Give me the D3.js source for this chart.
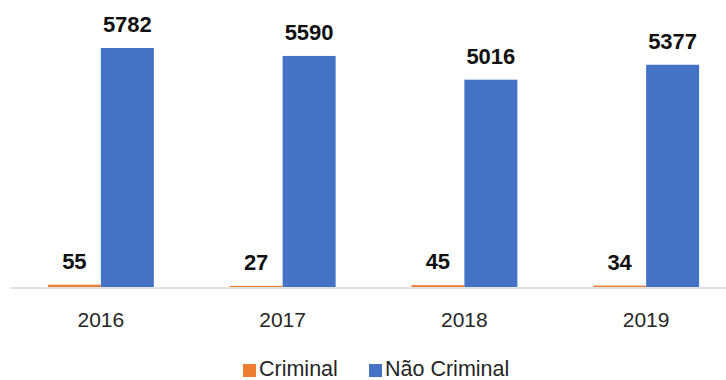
<!DOCTYPE html>
<html><head><meta charset="utf-8">
<script src="https://cdn.jsdelivr.net/npm/d3@7"></script>
<style>body{margin:0;background:#fff}svg{display:block}</style>
</head><body>
<svg id="c" width="726" height="380"></svg>
<script>
const years = ["2016","2017","2018","2019"];
const seriesNames = ["Criminal","Não Criminal"];
const criminal = [55,27,45,34];
const naoCriminal = [5782,5590,5016,5377];
const colors = ["#ED7D31","#4472C4"];

const svg = d3.select("#c");
const x = d3.scaleBand().domain(years).range([10,737]).paddingInner(0.417).paddingOuter(0.2085);
const xs = d3.scaleBand().domain(seriesNames).range([0,x.bandwidth()]).padding(0);
const y = d3.scaleLinear().domain([0,6000]).range([287,39]);

const data = years.map((yr,i)=>({year:yr, vals:[criminal[i], naoCriminal[i]]}));

// axis line
svg.append("line").attr("x1",10).attr("x2",726).attr("y1",288).attr("y2",288)
  .attr("stroke","#d9d9d9").attr("stroke-width",1.5);

const g = svg.selectAll("g.grp").data(data).enter().append("g")
  .attr("transform",d=>`translate(${x(d.year)},0)`);
g.selectAll("rect").data(d=>d.vals.map((v,k)=>({v,k}))).enter().append("rect")
  .attr("x",d=>xs(seriesNames[d.k])).attr("width",xs.bandwidth())
  .attr("y",d=>y(d.v)).attr("height",d=>y(0)-y(d.v))
  .attr("fill",d=>colors[d.k]);
g.selectAll("text.lab").data(d=>d.vals.map((v,k)=>({v,k}))).enter().append("text")
  .attr("x",d=>xs(seriesNames[d.k])+xs.bandwidth()/2).attr("y",d=>y(d.v)-16)
  .attr("text-anchor","middle").attr("font-family","Liberation Sans, Arial, sans-serif")
  .attr("font-weight","bold").attr("font-size",22).attr("fill","#111")
  .text(d=>d.v);

// category labels
svg.selectAll("text.cat").data(years).enter().append("text")
  .attr("x",d=>x(d)+x.bandwidth()/2).attr("y",327)
  .attr("text-anchor","middle").attr("font-family","Liberation Sans, Arial, sans-serif")
  .attr("font-size",21).attr("fill","#262626").text(d=>d);

// legend
const legX = [243,369];
seriesNames.forEach((s,k)=>{
  svg.append("rect").attr("x",legX[k]).attr("y",364).attr("width",13).attr("height",13).attr("fill",colors[k]);
  svg.append("text").attr("x",legX[k]+16).attr("y",376)
    .attr("font-family","Liberation Sans, Arial, sans-serif").attr("font-size",21.5)
    .attr("fill","#262626").text(s);
});
</script>
</body></html>
